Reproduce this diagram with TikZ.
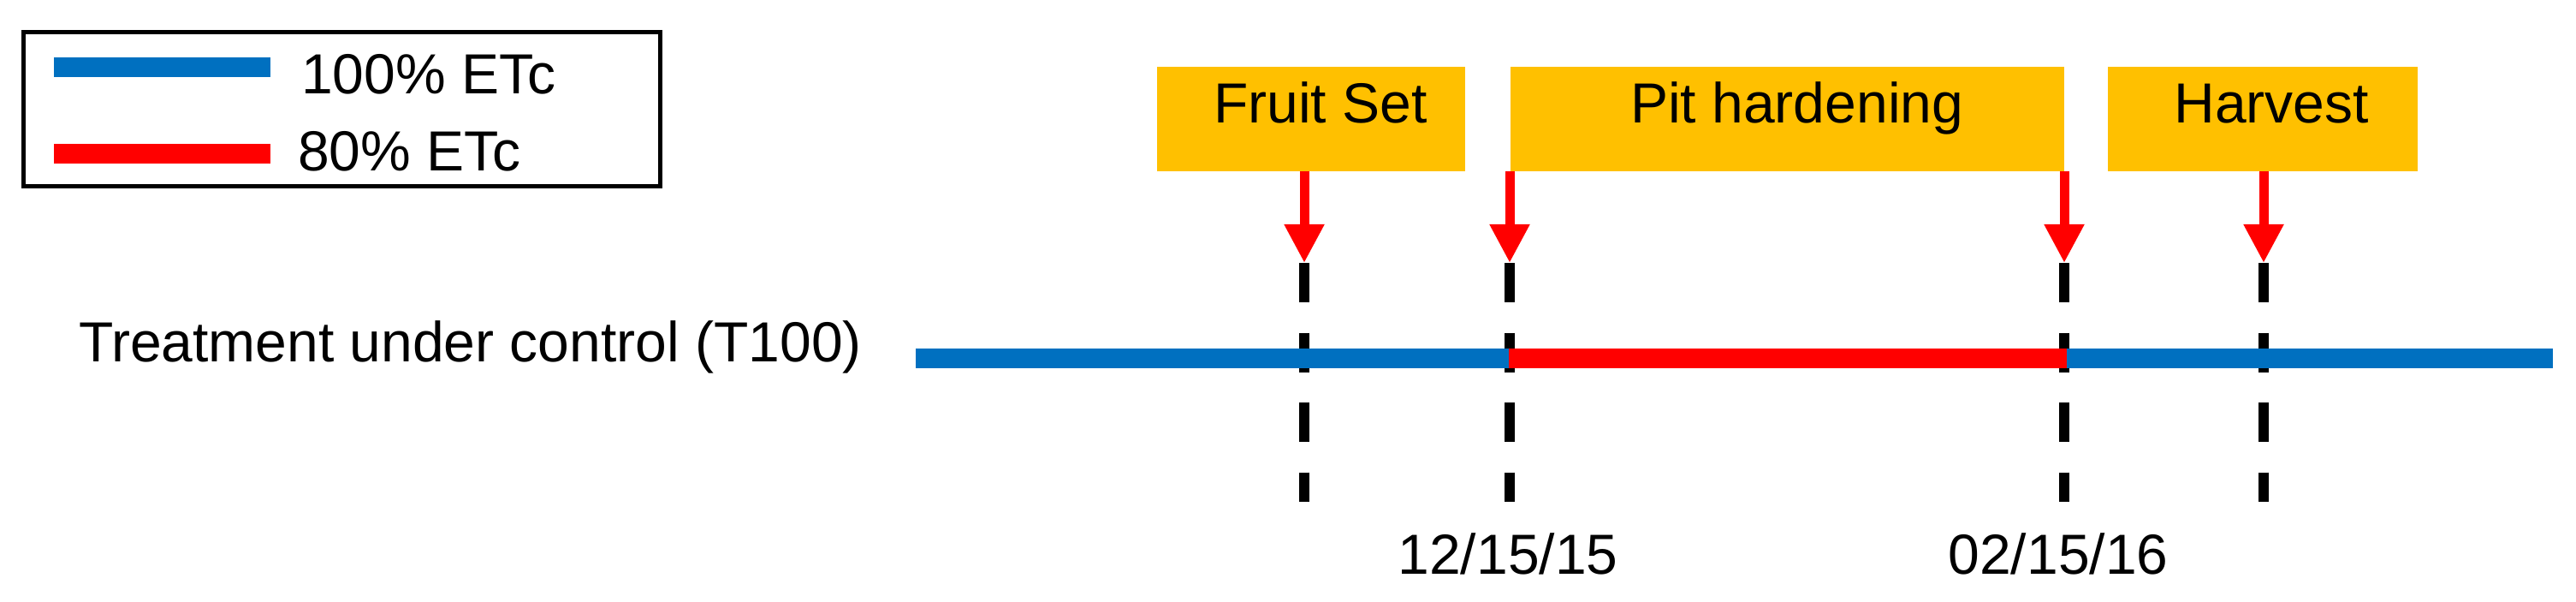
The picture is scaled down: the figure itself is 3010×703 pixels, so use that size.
\documentclass[tikz,border=0pt]{standalone}
\usepackage{fontspec}
\setmainfont{Liberation Sans}
\usetikzlibrary{arrows.meta}
\definecolor{tlblue}{HTML}{0070C0}
\definecolor{tlred}{HTML}{FF0000}
\definecolor{tlgold}{HTML}{FFC000}
\begin{document}
\begin{tikzpicture}[x=1pt,y=-1pt,
  every node/.style={font=\fontsize{66pt}{79pt}\selectfont, inner sep=0pt},
  phase/.style={fill=tlgold, text height=65pt, text depth=57pt, anchor=north west},
  evarrow/.style={draw=tlred, line width=11pt, -{Triangle[width=44pt,length=45pt,fill=tlred]}},
  guide/.style={line width=11.5pt, dash pattern=on 46pt off 35.5pt},
  seg/.style={line width=23pt}]
\useasboundingbox (0,0) rectangle (3010,703);
% legend
\node[draw, line width=5pt, minimum width=744pt, minimum height=180pt, anchor=north west] (legend) at (25,35) {};
\coordinate (lb1) at (63,78.5);
\coordinate (lb2) at (316,78.5);
\coordinate (lr1) at (63,180);
\coordinate (lr2) at (316,180);
\draw[seg, tlblue] (lb1) -- (lb2);
\draw[seg, tlred] (lr1) -- (lr2);
\node[anchor=base west] (t100) at (352,110) {100\% ETc};
\node[anchor=base west] (t80) at (348,200) {80\% ETc};
% row label
\node[anchor=base west] (trt) at (92,422) {Treatment under control (T100)};
% guide lines
\coordinate (d1t) at (1524,307); \coordinate (d1b) at (1524,586);
\coordinate (d2t) at (1764,307); \coordinate (d2b) at (1764,586);
\coordinate (d3t) at (2412,307); \coordinate (d3b) at (2412,586);
\coordinate (d4t) at (2645,307); \coordinate (d4b) at (2645,586);
\foreach \i in {1,2,3,4} \draw[guide] (d\i t) -- (d\i b);
% timeline
\coordinate (tl0) at (1070,418.5);
\coordinate (tl1) at (1763,418.5);
\coordinate (tl2) at (2415,418.5);
\coordinate (tl3) at (2983,418.5);
\draw[seg, tlblue] (tl0) -- (tl1);
\draw[seg, tlred] (tl1) -- (tl2);
\draw[seg, tlblue] (tl2) -- (tl3);
% phase boxes
\node[phase, minimum width=360pt] (fs) at (1352,78) {\hspace*{21pt}Fruit Set};
\node[phase, minimum width=647pt] (ph) at (1765,78) {\hspace*{22pt}Pit hardening};
\node[phase, minimum width=362pt] (hv) at (2463,78) {\hspace*{20pt}Harvest};
% arrows
\draw[evarrow] (fs.south -| d1t) -- (d1t);
\draw[evarrow] (ph.south -| d2t) -- (d2t);
\draw[evarrow] (ph.south -| d3t) -- (d3t);
\draw[evarrow] (hv.south -| d4t) -- (d4t);
% dates
\node[anchor=base] (date1) at (1762,670) {12/15/15};
\node[anchor=base] (date2) at (2405,670) {02/15/16};
\end{tikzpicture}
\end{document}
